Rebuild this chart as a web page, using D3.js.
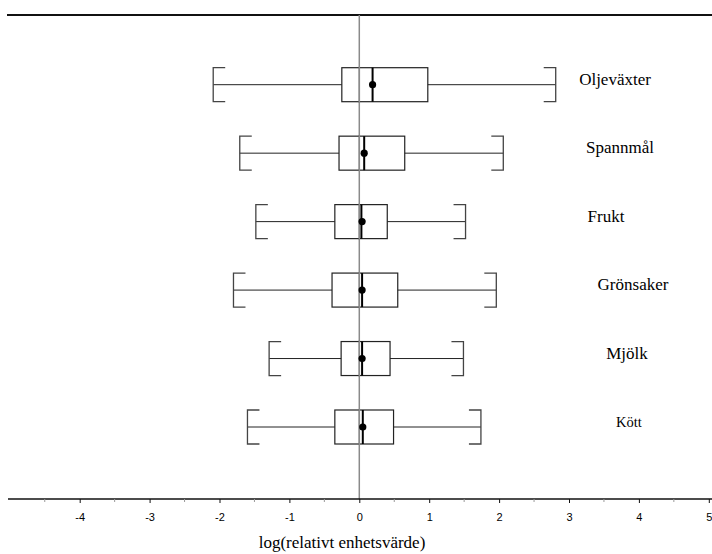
<!DOCTYPE html>
<html>
<head>
<meta charset="utf-8">
<script src="https://cdn.jsdelivr.net/npm/d3@7"></script>
<style>
  body { margin: 0; background: #fff; }
</style>
</head>
<body>
<svg id="svg"></svg>
<script>
"use strict";
var width = 712;
var height = 554;

// data (log relative unit value)
var categories = ['Oljeväxter', 'Spannmål', 'Frukt', 'Grönsaker', 'Mjölk', 'Kött'];
var whiskerLow = [-2.09, -1.71, -1.48, -1.80, -1.29, -1.60];
var q1 = [-0.25, -0.29, -0.35, -0.39, -0.26, -0.35];
var median = [0.19, 0.07, 0.03, 0.04, 0.04, 0.05];
var mean = [0.19, 0.07, 0.04, 0.04, 0.04, 0.05];
var q3 = [0.98, 0.65, 0.40, 0.55, 0.44, 0.49];
var whiskerHigh = [2.81, 2.06, 1.52, 1.96, 1.49, 1.74];
var tickValues = [-4, -3, -2, -1, 0, 1, 2, 3, 4, 5];

var rows = categories.map(function (c, i) {
    return { name: c, lo: whiskerLow[i], q1: q1[i], med: median[i], mean: mean[i], q3: q3[i], hi: whiskerHigh[i] };
});

// label placement (pixels right of the plot, not data)
var labelX = [615, 620, 606, 633, 627, 629];
var labelSize = [17, 17, 17, 17, 17, 14.5];

var axisY = 499;
var topY = 15;

var x = d3.scaleLinear().domain([-5, 5]).range([9.8, 708.8]);
var y = d3.scalePoint().domain(categories).range([84.7, 427]);
var halfH = 17;
var capLen = 12;

var svg = d3.select('#svg')
    .attr('width', width)
    .attr('height', height)
    .attr('viewBox', '0 0 ' + width + ' ' + height);

// top frame line
svg.append('line')
    .attr('x1', 7).attr('x2', 712)
    .attr('y1', topY).attr('y2', topY)
    .attr('stroke', '#111').attr('stroke-width', 2);

// zero reference line
svg.append('line')
    .attr('x1', x(0)).attr('x2', x(0))
    .attr('y1', topY).attr('y2', axisY)
    .attr('stroke', '#8a8a8a').attr('stroke-width', 1.5);

// bottom axis
var axis = svg.append('g').attr('transform', 'translate(0,' + axisY + ')');
axis.append('line')
    .attr('x1', 8).attr('x2', 712)
    .attr('stroke', '#111').attr('stroke-width', 1.5);
axis.selectAll('line.minor')
    .data(d3.range(-4.5, 5, 1))
    .enter().append('line')
    .attr('class', 'minor')
    .attr('x1', function (d) { return x(d); })
    .attr('x2', function (d) { return x(d); })
    .attr('y1', 0).attr('y2', 3)
    .attr('stroke', '#999').attr('stroke-width', 1);
var xAxis = d3.axisBottom(x).tickValues(tickValues).tickSize(4).tickPadding(10)
    .tickFormat(function (d) { return String(d); });
axis.append('g').call(xAxis)
    .call(function (g) { g.select('.domain').remove(); })
    .call(function (g) {
        g.selectAll('.tick line').attr('stroke', '#111');
        g.selectAll('.tick text')
            .attr('fill', '#000')
            .style('font-family', '"Liberation Sans", Arial, sans-serif')
            .style('font-size', '11px');
    });

svg.append('text')
    .attr('x', 342).attr('y', 548)
    .attr('text-anchor', 'middle')
    .style('font-family', '"Liberation Serif", "Times New Roman", serif')
    .style('font-size', '17px')
    .text('log(relativt enhetsvärde)');

// box plots
var box = svg.selectAll('g.box')
    .data(rows)
    .enter().append('g')
    .attr('class', 'box')
    .attr('transform', function (d) { return 'translate(0,' + y(d.name) + ')'; });

box.append('line')
    .attr('x1', function (d) { return x(d.lo); })
    .attr('x2', function (d) { return x(d.q1); })
    .attr('stroke', '#222').attr('stroke-width', 1);
box.append('line')
    .attr('x1', function (d) { return x(d.q3); })
    .attr('x2', function (d) { return x(d.hi); })
    .attr('stroke', '#222').attr('stroke-width', 1);

// bracket caps
box.append('path')
    .attr('d', function (d) {
        var a = x(d.lo);
        return 'M' + (a + capLen) + ',' + (-halfH) + 'H' + a + 'V' + halfH + 'H' + (a + capLen);
    })
    .attr('fill', 'none').attr('stroke', '#444').attr('stroke-width', 1.3);
box.append('path')
    .attr('d', function (d) {
        var b = x(d.hi);
        return 'M' + (b - capLen) + ',' + (-halfH) + 'H' + b + 'V' + halfH + 'H' + (b - capLen);
    })
    .attr('fill', 'none').attr('stroke', '#444').attr('stroke-width', 1.3);

box.append('rect')
    .attr('x', function (d) { return x(d.q1); })
    .attr('y', -halfH)
    .attr('width', function (d) { return x(d.q3) - x(d.q1); })
    .attr('height', 2 * halfH)
    .attr('fill', 'none').attr('stroke', '#222').attr('stroke-width', 1.2);

// redraw zero line over boxes
box.append('line')
    .attr('x1', x(0)).attr('x2', x(0))
    .attr('y1', -halfH - 1).attr('y2', halfH + 1)
    .attr('stroke', '#8a8a8a').attr('stroke-width', 1.5);

box.append('line')
    .attr('x1', function (d) { return x(d.med); })
    .attr('x2', function (d) { return x(d.med); })
    .attr('y1', -halfH).attr('y2', halfH)
    .attr('stroke', '#000').attr('stroke-width', 2);

box.append('circle')
    .attr('cx', function (d) { return x(d.mean); })
    .attr('cy', 0)
    .attr('r', 3.6)
    .attr('fill', '#000');

// category labels
box.append('text')
    .attr('x', function (d, i) { return labelX[i]; })
    .attr('y', 0)
    .attr('text-anchor', 'middle')
    .style('font-family', '"Liberation Serif", "Times New Roman", serif')
    .style('font-size', function (d, i) { return labelSize[i] + 'px'; })
    .text(function (d) { return d.name; });
</script>
</body>
</html>
